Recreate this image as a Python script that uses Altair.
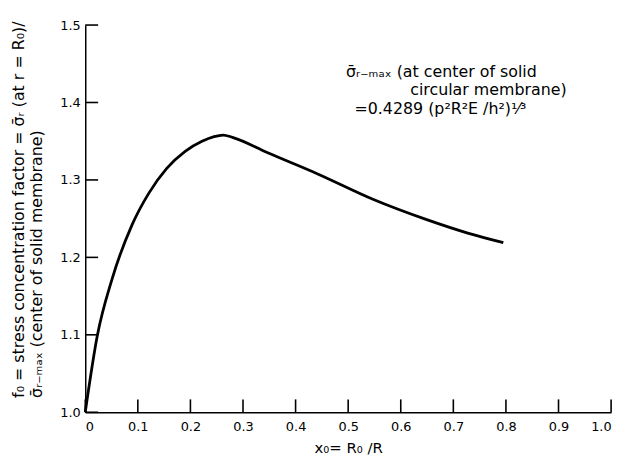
import altair as alt
import pandas as pd

# Curve
x_vals = [0.0, 0.023, 0.051, 0.089, 0.121, 0.155, 0.19, 0.222, 0.245, 0.262, 0.28,
          0.347, 0.441, 0.547, 0.648, 0.729, 0.795]
f_vals = [1.0, 1.099, 1.172, 1.242, 1.283, 1.315, 1.337, 1.350, 1.356, 1.358, 1.355,
          1.335, 1.308, 1.275, 1.249, 1.231, 1.219]

x_ticks = [0.0, 0.1, 0.2, 0.3, 0.4, 0.5, 0.6, 0.7, 0.8, 0.9, 1.0]
y_ticks = [1.0, 1.1, 1.2, 1.3, 1.4, 1.5]

ann_text = ["\u03c3\u0304\u1d63\u208b\u2098\u2090\u2093 (at center of solid",
            "circular membrane)",
            "=0.4289 (p\u00b2R\u00b2E /h\u00b2)\u00b9\u2044\u00b3"]
ann_x = [0.496, 0.618, 0.512]
ann_y = [1.439, 1.416, 1.391]

y_title = ["f\u2080 = stress concentration factor = \u03c3\u0304\u1d63 (at r = R\u2080)/",
           "\u03c3\u0304\u1d63\u208b\u2098\u2090\u2093 (center of solid membrane)"]
x_title = "x\u2080= R\u2080 /R"

W, H = 531, 391
FONT = "DejaVu Sans"

curve = pd.DataFrame({"x": x_vals, "f": f_vals})
xt = pd.DataFrame({"xv": x_ticks})
yt = pd.DataFrame({"yv": y_ticks})
ann = pd.DataFrame({"ax": ann_x, "ay": ann_y, "t": ann_text})

xscale = alt.Scale(domain=[0, 1.0], nice=False, zero=False)
yscale = alt.Scale(domain=[1.0, 1.5], nice=False, zero=False)

xaxis = alt.Axis(values=x_ticks, tickSize=0, domainColor="black", domainWidth=1.5,
                 labelExpr="datum.value == 0 ? '0' : format(datum.value, '.1f')",
                 labelFontSize=13, labelColor="black", labelPadding=8, labelFont=FONT,
                 title=x_title, titleFont=FONT, titleFontSize=15, titleFontWeight="normal",
                 titleColor="black", titlePadding=8, grid=False)
yaxis = alt.Axis(values=y_ticks, tickSize=0, domainColor="black", domainWidth=1.5,
                 format=".1f", labelFontSize=13, labelColor="black", labelPadding=5,
                 labelFont=FONT, title=y_title, titleFont=FONT, titleFontSize=16,
                 titleFontWeight="normal", titleColor="black", titleAngle=270,
                 titleAlign="left", titleBaseline="top", titleX=-75, titleY=376,
                 titleLineHeight=18, grid=False)

xtick_marks = alt.Chart(xt).mark_rule(color="#000000", strokeWidth=1.6, opacity=1).encode(
    x=alt.X("xv:Q", scale=xscale, axis=xaxis),
    y=alt.value(H), y2=alt.value(H - 13),
)
ytick_marks = alt.Chart(yt).mark_rule(color="#000000", strokeWidth=1.6, opacity=1).encode(
    y=alt.Y("yv:Q", scale=yscale, axis=yaxis),
    x=alt.value(0), x2=alt.value(13),
)

line = alt.Chart(curve).mark_line(color="black", strokeWidth=2.8, interpolate="monotone").encode(
    x=alt.X("x:Q", scale=xscale),
    y=alt.Y("f:Q", scale=yscale),
)

annot = alt.Chart(ann).mark_text(align="left", baseline="middle", font=FONT, fontSize=16,
                                 color="black").encode(
    x=alt.X("ax:Q", scale=xscale),
    y=alt.Y("ay:Q", scale=yscale),
    text="t:N",
)

chart = alt.layer(xtick_marks, ytick_marks, line, annot).properties(
    width=W, height=H,
    autosize=alt.AutoSizeParams(type="none"),
    padding={"left": 78, "top": 15, "right": 10, "bottom": 47},
).configure_view(stroke=None)

chart.save("out.html", embed_options={"renderer": "svg", "actions": False})
